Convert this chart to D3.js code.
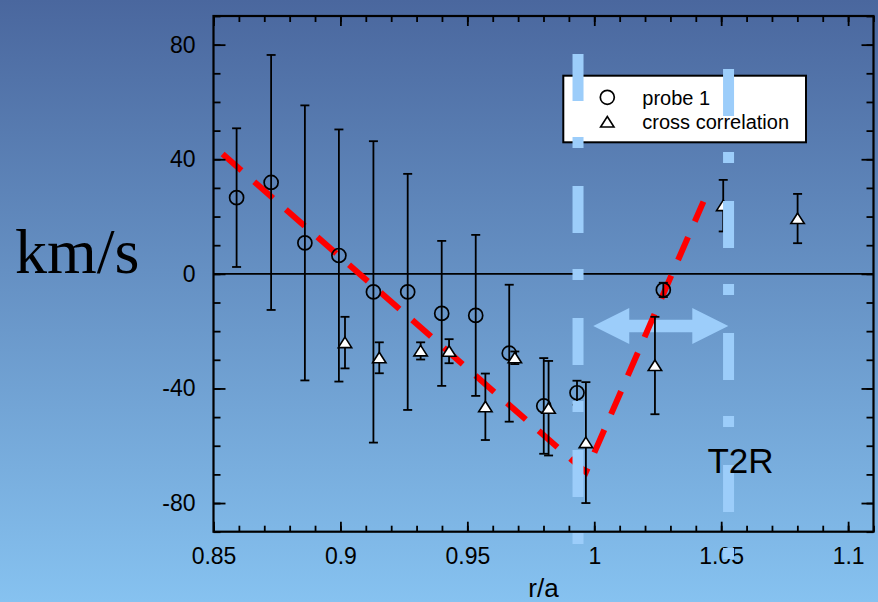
<!DOCTYPE html>
<html>
<head>
<meta charset="utf-8">
<script src="https://cdn.jsdelivr.net/npm/d3@7"></script>
<style>
  html, body { margin: 0; padding: 0; overflow: hidden; }
  svg { display: block; }
</style>
</head>
<body>
<svg id="chart" width="878" height="602"></svg>
<script>
// Probe 1 rotation velocity vs normalised radius (r/a), with error bars
const probeR   = [0.8591, 0.8727, 0.8860, 0.8994, 0.9130, 0.9265, 0.9399, 0.9533, 0.9665, 0.9801, 0.9932, 1.0272];
const probeV   = [26.6, 31.9, 10.8, 6.4, -6.3, -6.3, -13.8, -14.5, -27.7, -46.1, -41.5, -5.6];
const probeErr = [24.2, 44.5, 48.0, 44.0, 52.6, 41.2, 25.3, 28.1, 23.9, 16.7, 4.2, 2.5];

// Cross-correlation velocity estimates
const crossR   = [0.9018, 0.9153, 0.9316, 0.9428, 0.9571, 0.9687, 0.9820, 0.9967, 1.0239, 1.0508, 1.0801];
const crossV   = [-24.0, -29.3, -26.9, -27.0, -46.4, -29.3, -46.9, -58.9, -32.0, 23.8, 19.3];
const crossErr = [9.0, 5.4, 3.0, 4.2, 11.6, 2.2, 16.5, 21.1, 17.0, 9.0, 8.6];

// Shear trend drawn over the data
const trendR = [0.8536, 0.9967, 1.0430];
const trendV = [41.8, -69.2, 25.2];

// Boundaries of the T2R region and the arrow spanning it
const bandR      = [0.9936, 1.0529];
const bandTop    = [76.7, 71.5];
const bandBottom = [-95.7, -99.9];
const arrowR = [0.9996, 1.0528];
const arrowV = -18.2;

// Axis ticks
const xTickValues = [0.85, 0.9, 0.95, 1.0, 1.05, 1.1];
const xTickLabels = ["0.85", "0.9", "0.95", "1", "1.05", "1.1"];
const xMinorTicks = d3.range(85, 112).map(i => i / 100);
const yTickValues = [-80, -40, 0, 40, 80];
const yTickLabels = ["-80", "-40", "0", "40", "80"];
const yMinorTicks = d3.range(-90, 91, 10);

const legendLabels = ["probe 1", "cross correlation"];

const W = 878, H = 602;
const SANS = "'Liberation Sans', Arial, sans-serif";
const BLUE = "#9ccdfa";

const svg = d3.select("#chart");

// background gradient
const grad = svg.append("defs").append("linearGradient")
  .attr("id", "bg").attr("x1", 0).attr("y1", 0).attr("x2", 0).attr("y2", 1);
grad.append("stop").attr("offset", "0%").attr("stop-color", "#4a679e");
grad.append("stop").attr("offset", "100%").attr("stop-color", "#86c2f0");
svg.append("rect").attr("width", W).attr("height", H).attr("fill", "url(#bg)");

const plot = { left: 213.5, right: 873.5, top: 16, bottom: 531.7 };
const x = d3.scaleLinear().domain([0.85, 1.11]).range([plot.left, plot.right]);
const y = d3.scaleLinear().domain([-90, 90]).range([plot.bottom, plot.top]);

// double-headed arrow across the T2R region (under the data)
{
  const x0 = x(arrowR[0]), x1 = x(arrowR[1]), yc = y(arrowV);
  const head = 36, hw = 18, sw = 6.2;
  const pts = [
    [x0, yc], [x0 + head, yc - hw], [x0 + head, yc - sw], [x1 - head, yc - sw],
    [x1 - head, yc - hw], [x1, yc], [x1 - head, yc + hw], [x1 - head, yc + sw],
    [x0 + head, yc + sw], [x0 + head, yc + hw]
  ];
  svg.append("path").attr("d", "M" + pts.map(p => p.join(",")).join("L") + "Z")
    .attr("fill", BLUE);
}

// zero line
svg.append("line")
  .attr("x1", x(0.85)).attr("x2", x(1.11))
  .attr("y1", y(0)).attr("y2", y(0))
  .attr("stroke", "#000").attr("stroke-width", 1.6);

// red dashed trend
svg.append("path")
  .datum(trendR.map((r, i) => [r, trendV[i]]))
  .attr("d", d3.line().x(d => x(d[0])).y(d => y(d[1])))
  .attr("fill", "none").attr("stroke", "#ff0000").attr("stroke-width", 6)
  .attr("stroke-dasharray", "25,17").attr("stroke-linejoin", "miter");

// error bars
function errorBars(rs, vs, es) {
  const g = svg.append("g").attr("stroke", "#000").attr("stroke-width", 1.8);
  rs.forEach((r, i) => {
    const cx = x(r), t = y(vs[i] + es[i]), b = y(vs[i] - es[i]);
    g.append("line").attr("x1", cx).attr("x2", cx).attr("y1", t).attr("y2", b);
    g.append("line").attr("x1", cx - 4.5).attr("x2", cx + 4.5).attr("y1", t).attr("y2", t);
    g.append("line").attr("x1", cx - 4.5).attr("x2", cx + 4.5).attr("y1", b).attr("y2", b);
  });
}
errorBars(probeR, probeV, probeErr);
errorBars(crossR, crossV, crossErr);

const triPath = "M0,-5.5L6.7,5L-6.7,5Z";

svg.append("g").selectAll("circle")
  .data(probeR.map((r, i) => [r, probeV[i]]))
  .join("circle")
  .attr("cx", d => x(d[0])).attr("cy", d => y(d[1])).attr("r", 7)
  .attr("fill", "none").attr("stroke", "#000").attr("stroke-width", 1.7);

svg.append("g").selectAll("path")
  .data(crossR.map((r, i) => [r, crossV[i]]))
  .join("path")
  .attr("d", triPath)
  .attr("transform", d => `translate(${x(d[0])},${y(d[1])})`)
  .attr("fill", "#fff").attr("stroke", "#000").attr("stroke-width", 1.6);

// axes: ticks inward on all four sides
function styleAxis(g) {
  g.select(".domain").remove();
  g.selectAll(".tick line").attr("stroke", "#000").attr("stroke-width", 1.8);
  g.selectAll("text").attr("fill", "#000").style("font-family", SANS).style("font-size", "23px");
}
const gBottom = svg.append("g").attr("transform", `translate(0,${plot.bottom})`);
gBottom.append("g").call(d3.axisBottom(x).tickValues(xMinorTicks).tickSize(-6).tickFormat("")).call(styleAxis);
gBottom.append("g").call(d3.axisBottom(x).tickValues(xTickValues).tickSize(-10).tickPadding(16)
  .tickFormat((d, i) => xTickLabels[i])).call(styleAxis);

const gTop = svg.append("g").attr("transform", `translate(0,${plot.top})`);
gTop.append("g").call(d3.axisTop(x).tickValues(xMinorTicks).tickSize(-6).tickFormat("")).call(styleAxis);
gTop.append("g").call(d3.axisTop(x).tickValues(xTickValues).tickSize(-10).tickFormat("")).call(styleAxis);

const gLeft = svg.append("g").attr("transform", `translate(${plot.left},0)`);
gLeft.append("g").call(d3.axisLeft(y).tickValues(yMinorTicks).tickSize(-7).tickFormat("")).call(styleAxis);
gLeft.append("g").call(d3.axisLeft(y).tickValues(yTickValues).tickSize(-12).tickPadding(18)
  .tickFormat((d, i) => yTickLabels[i])).call(styleAxis);

const gRight = svg.append("g").attr("transform", `translate(${plot.right},0)`);
gRight.append("g").call(d3.axisRight(y).tickValues(yMinorTicks).tickSize(-7).tickFormat("")).call(styleAxis);
gRight.append("g").call(d3.axisRight(y).tickValues(yTickValues).tickSize(-12).tickFormat("")).call(styleAxis);

// frame
svg.append("rect")
  .attr("x", plot.left).attr("y", plot.top)
  .attr("width", plot.right - plot.left).attr("height", plot.bottom - plot.top)
  .attr("fill", "none").attr("stroke", "#000").attr("stroke-width", 2.2);

// legend
const lg = svg.append("g");
lg.append("rect").attr("x", 563.3).attr("y", 75.7).attr("width", 242.7).attr("height", 66.6)
  .attr("fill", "#fff").attr("stroke", "#000").attr("stroke-width", 2);
lg.append("circle").attr("cx", 607.3).attr("cy", 97.3).attr("r", 7)
  .attr("fill", "none").attr("stroke", "#000").attr("stroke-width", 1.7);
lg.append("path").attr("d", triPath).attr("transform", "translate(607.3,122)")
  .attr("fill", "#fff").attr("stroke", "#000").attr("stroke-width", 1.6);
lg.selectAll("text").data(legendLabels).join("text")
  .attr("x", 642.3).attr("y", (d, i) => 104.5 + i * 24)
  .style("font-family", SANS).style("font-size", "20px").attr("fill", "#000")
  .text(d => d);

// T2R region boundaries (dash-dot)
svg.append("g").selectAll("line")
  .data(bandR.map((r, i) => [r, bandTop[i], bandBottom[i]]))
  .join("line")
  .attr("x1", d => x(d[0])).attr("x2", d => x(d[0]))
  .attr("y1", d => y(d[1])).attr("y2", d => y(d[2]))
  .attr("stroke", BLUE).attr("stroke-width", 11)
  .attr("stroke-dasharray", "47,36,11,38");

// text labels
svg.append("text").attr("x", 15).attr("y", 273)
  .style("font-family", "'Liberation Serif', 'Times New Roman', serif").style("font-size", "64px")
  .attr("fill", "#000").text("km/s");
svg.append("text").attr("x", 543.5).attr("y", 597).attr("text-anchor", "middle")
  .style("font-family", SANS).style("font-size", "26px").attr("fill", "#000").text("r/a");
svg.append("text").attr("x", 740.5).attr("y", 473).attr("text-anchor", "middle")
  .style("font-family", SANS).style("font-size", "35px").attr("fill", "#000").text("T2R");
</script>
</body>
</html>
